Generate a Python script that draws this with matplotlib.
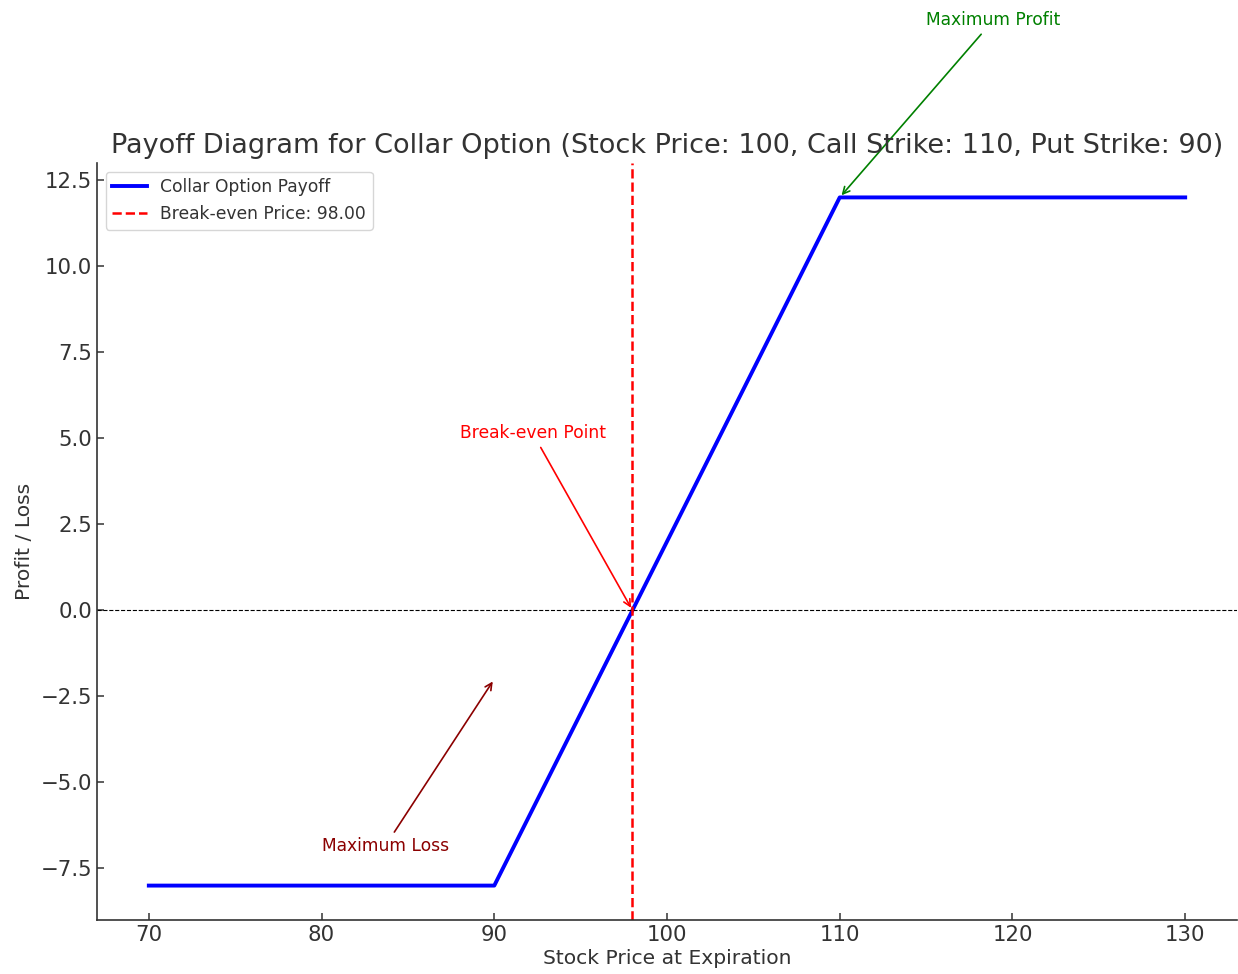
import numpy as np
import matplotlib
matplotlib.use("Agg")
import matplotlib.pyplot as plt

# collar: long stock at 100, long put 90, short call 110, net cost 2
stock_price = 100
call_strike = 110
put_strike = 90
breakeven = 98.00
prices = [70, 90, 110, 130]
payoff = [-8, -8, 12, 12]

text_c = "#333333"
plt.rcParams["text.color"] = text_c
plt.rcParams["axes.labelcolor"] = text_c
plt.rcParams["xtick.color"] = text_c
plt.rcParams["ytick.color"] = text_c
plt.rcParams["axes.edgecolor"] = text_c
plt.rcParams["axes.linewidth"] = 1.2

fig = plt.figure(figsize=(12.38, 9.74), dpi=100)
ax = fig.add_axes([97 / 1238, 1 - 920 / 974, 1140 / 1238, 757 / 974])

ax.plot(prices, payoff, color="blue", lw=2.8, label="Collar Option Payoff")
ax.axhline(0, color="black", lw=0.8, ls="--")
ax.axvline(breakeven, color="red", lw=1.8, ls="--", label=f"Break-even Price: {breakeven:.2f}")

ax.annotate("Maximum Profit", xy=(110, 12), xytext=(115, 17), color="green", fontsize=12.3,
            arrowprops=dict(arrowstyle="->", color="green", lw=1.2), annotation_clip=False)
ax.annotate("Break-even Point", xy=(98, 0), xytext=(88, 5), color="red", fontsize=12.3,
            arrowprops=dict(arrowstyle="->", color="red", lw=1.2))
ax.annotate("Maximum Loss", xy=(90, -2), xytext=(80, -7), color="darkred", fontsize=12.3,
            arrowprops=dict(arrowstyle="->", color="darkred", lw=1.2))

ax.set_xlim(67, 133)
ax.set_ylim(-9, 13)
ax.spines["top"].set_visible(False)
ax.spines["right"].set_visible(False)
ax.tick_params(direction="in", labelsize=15.3, length=5, width=1.1)
ax.set_yticks(np.arange(-7.5, 12.6, 2.5))
ax.set_title(f"Payoff Diagram for Collar Option (Stock Price: {stock_price}, Call Strike: {call_strike}, Put Strike: {put_strike})",
             fontsize=19.5, pad=7)
ax.set_xlabel("Stock Price at Expiration", fontsize=14.6, labelpad=3)
ax.set_ylabel("Profit / Loss", fontsize=14.6, labelpad=5)
ax.legend(loc="upper left", fontsize=12.3)

fig.savefig("out.png", dpi=100)
